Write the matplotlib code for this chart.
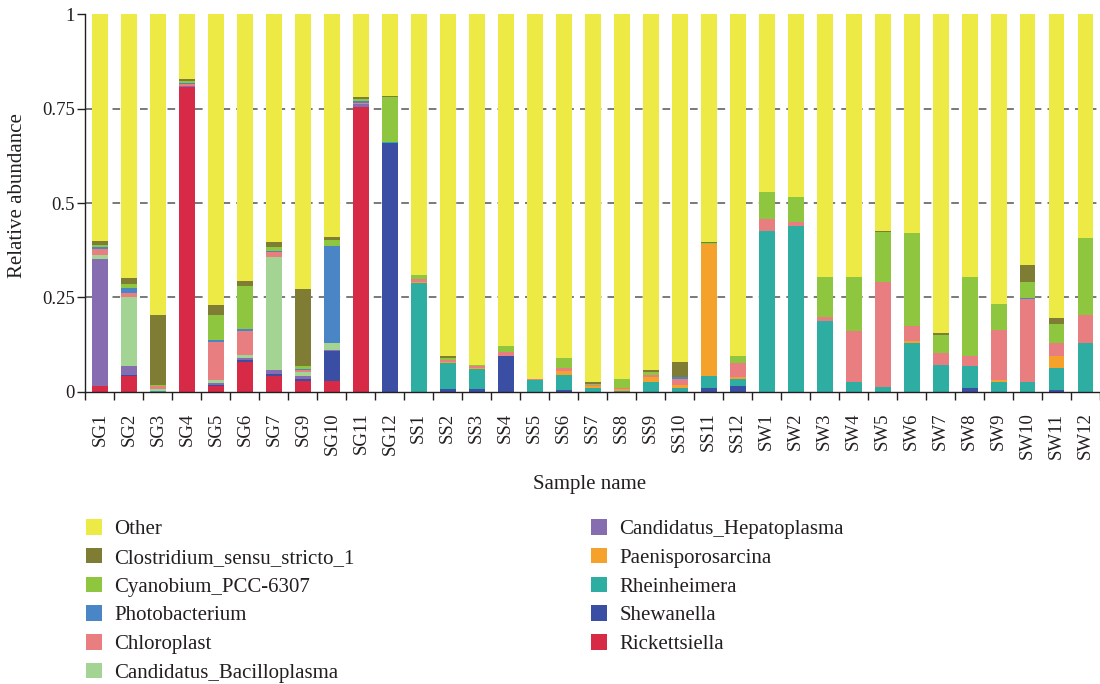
import numpy as np
import matplotlib
matplotlib.use("Agg")
import matplotlib.pyplot as plt

plt.rcParams['font.family'] = ['Liberation Serif', 'DejaVu Serif']

samples = ["SG1", "SG2", "SG3", "SG4", "SG5", "SG6", "SG7", "SG9", "SG10", "SG11", "SG12",
           "SS1", "SS2", "SS3", "SS4", "SS5", "SS6", "SS7", "SS8", "SS9", "SS10", "SS11", "SS12",
           "SW1", "SW2", "SW3", "SW4", "SW5", "SW6", "SW7", "SW8", "SW9", "SW10", "SW11", "SW12"]

# relative abundance per genus, bottom of the stack first
rickettsiella = [0.014, 0.041, 0, 0.807, 0.014, 0.080, 0.042, 0.029, 0.029, 0.755, 0,
                 0, 0, 0, 0, 0, 0, 0, 0, 0, 0, 0, 0,
                 0, 0, 0, 0, 0, 0, 0, 0, 0, 0, 0, 0]
shewanella = [0, 0.003, 0, 0, 0.004, 0.003, 0.004, 0.005, 0.078, 0, 0.658,
              0, 0.008, 0.008, 0.095, 0, 0.004, 0, 0, 0, 0, 0.011, 0.014,
              0, 0, 0, 0, 0, 0, 0, 0.010, 0, 0, 0.005, 0]
rheinheimera = [0, 0, 0.002, 0, 0, 0, 0, 0, 0, 0, 0.003,
                0.288, 0.068, 0.053, 0, 0.032, 0.041, 0.011, 0.003, 0.026, 0.010, 0.031, 0.020,
                0.425, 0.440, 0.188, 0.025, 0.012, 0.129, 0.071, 0.059, 0.027, 0.027, 0.059, 0.129]
paenisporosarcina = [0, 0, 0, 0, 0, 0, 0, 0, 0, 0, 0,
                     0.004, 0.004, 0.003, 0, 0, 0.009, 0.004, 0.003, 0.013, 0.009, 0.349, 0.005,
                     0, 0, 0, 0, 0, 0.006, 0, 0, 0.003, 0, 0.030, 0]
hepatoplasma = [0.337, 0.023, 0, 0.004, 0.005, 0.006, 0.012, 0.008, 0.004, 0.008, 0,
                0, 0, 0, 0, 0, 0, 0, 0, 0, 0, 0, 0,
                0, 0, 0, 0, 0, 0, 0, 0, 0, 0, 0, 0]
bacilloplasma = [0.012, 0.183, 0.004, 0, 0.009, 0.009, 0.298, 0.009, 0.018, 0, 0,
                 0, 0, 0, 0, 0, 0, 0, 0, 0, 0, 0, 0,
                 0, 0, 0, 0, 0, 0, 0, 0, 0, 0, 0, 0]
chloroplast = [0.015, 0.011, 0.010, 0.003, 0.101, 0.064, 0.014, 0.006, 0, 0.003, 0,
               0.006, 0.004, 0.003, 0.009, 0.003, 0.009, 0.003, 0.003, 0.006, 0.016, 0, 0.037,
               0.032, 0.010, 0.011, 0.137, 0.278, 0.038, 0.031, 0.025, 0.134, 0.218, 0.035, 0.075]
photobacterium = [0.005, 0.013, 0, 0.004, 0.005, 0.005, 0.004, 0.004, 0.258, 0.005, 0,
                  0, 0, 0, 0, 0, 0, 0, 0, 0, 0.005, 0, 0,
                  0, 0, 0, 0, 0, 0, 0, 0, 0, 0.004, 0, 0]
cyanobium = [0.006, 0.012, 0.003, 0.005, 0.064, 0.114, 0.009, 0.008, 0.014, 0.004, 0.121,
             0.011, 0.006, 0.003, 0.016, 0, 0.026, 0.003, 0.025, 0.007, 0, 0.004, 0.019,
             0.071, 0.065, 0.105, 0.142, 0.133, 0.247, 0.049, 0.210, 0.069, 0.043, 0.051, 0.203]
clostridium = [0.010, 0.015, 0.184, 0.006, 0.029, 0.012, 0.013, 0.203, 0.010, 0.005, 0.002,
               0, 0.005, 0.002, 0, 0, 0, 0.005, 0, 0.006, 0.039, 0.003, 0,
               0, 0.002, 0, 0, 0.004, 0, 0.004, 0, 0, 0.043, 0.015, 0]
other = [0.601, 0.699, 0.797, 0.171, 0.769, 0.707, 0.604, 0.728, 0.589, 0.220, 0.216,
         0.691, 0.905, 0.928, 0.880, 0.965, 0.911, 0.974, 0.966, 0.942, 0.921, 0.602, 0.905,
         0.472, 0.483, 0.696, 0.696, 0.573, 0.580, 0.845, 0.696, 0.767, 0.665, 0.805, 0.593]

taxa = ["Rickettsiella", "Shewanella", "Rheinheimera", "Paenisporosarcina",
        "Candidatus_Hepatoplasma", "Candidatus_Bacilloplasma", "Chloroplast",
        "Photobacterium", "Cyanobium_PCC-6307", "Clostridium_sensu_stricto_1", "Other"]
series = [rickettsiella, shewanella, rheinheimera, paenisporosarcina, hepatoplasma,
          bacilloplasma, chloroplast, photobacterium, cyanobium, clostridium, other]
colors = ["#d62a47", "#3a4fa3", "#2eada3", "#f5a22d", "#866db0", "#a4d494",
          "#e97e80", "#4a86c6", "#8ec63f", "#7f7d33", "#ede945"]

text_color = "#231f20"

fig = plt.figure(figsize=(11, 6.84), dpi=100)
ax = fig.add_axes([0.0776, 0.4273, 0.9224, 0.5518])

x = np.arange(len(samples))
bottom = np.zeros(len(samples))
bars = {}
for name, vals, c in zip(taxa, series, colors):
    vals = np.array(vals)
    bars[name] = ax.bar(x, vals, 0.55, bottom=bottom, color=c, linewidth=0, label=name, zorder=2)
    bottom += vals

# dashed reference lines behind the bars
for yv in [0.25, 0.5, 0.75]:
    ax.axhline(yv, color="#555555", lw=1.1, ls=(0, (5, 4)), zorder=1)

ax.set_xlim(-0.5, 34.33)
ax.set_ylim(0, 1)
ax.set_yticks([0, 0.25, 0.5, 0.75, 1])
ax.set_yticklabels(["0", "0.25", "0.5", "0.75", "1"])
ax.set_xticks(x)
ax.set_xticklabels(samples, rotation=90, va="top", ha="center")
ax.set_xticks(np.arange(-0.5, 35, 1), minor=True)

ax.tick_params(axis="x", which="major", length=0, pad=15, labelsize=13.5, labelcolor=text_color)
ax.tick_params(axis="x", which="minor", length=6, width=1, color=text_color)
ax.tick_params(axis="y", length=5.5, width=1, pad=2, labelsize=13.5,
               labelcolor=text_color, color=text_color)

for s in ["top", "right"]:
    ax.spines[s].set_visible(False)
for s in ["left", "bottom"]:
    ax.spines[s].set_color(text_color)
    ax.spines[s].set_linewidth(1)

ax.set_ylabel("Relative abundance", fontsize=15, color=text_color, va="center")
ax.yaxis.set_label_coords(-0.0664, 0.521)
ax.set_xlabel("Sample name", fontsize=15, color=text_color, va="center")
ax.xaxis.set_label_coords(0.497, -0.247)

# legend in two columns, top of stack first
order = taxa[::-1]
legend_kw = dict(frameon=False, fontsize=15, handlelength=0.77, handleheight=0.77,
                 handletextpad=0.6, labelspacing=0.42, borderpad=0, borderaxespad=0,
                 loc="upper left", labelcolor=text_color)
fig.legend([bars[n] for n in order[:6]], order[:6],
           bbox_to_anchor=(86 / 1100, 1 - 519 / 684), **legend_kw)
fig.legend([bars[n] for n in order[6:]], order[6:],
           bbox_to_anchor=(591 / 1100, 1 - 519 / 684), **legend_kw)

fig.savefig("out.png", dpi=100)
